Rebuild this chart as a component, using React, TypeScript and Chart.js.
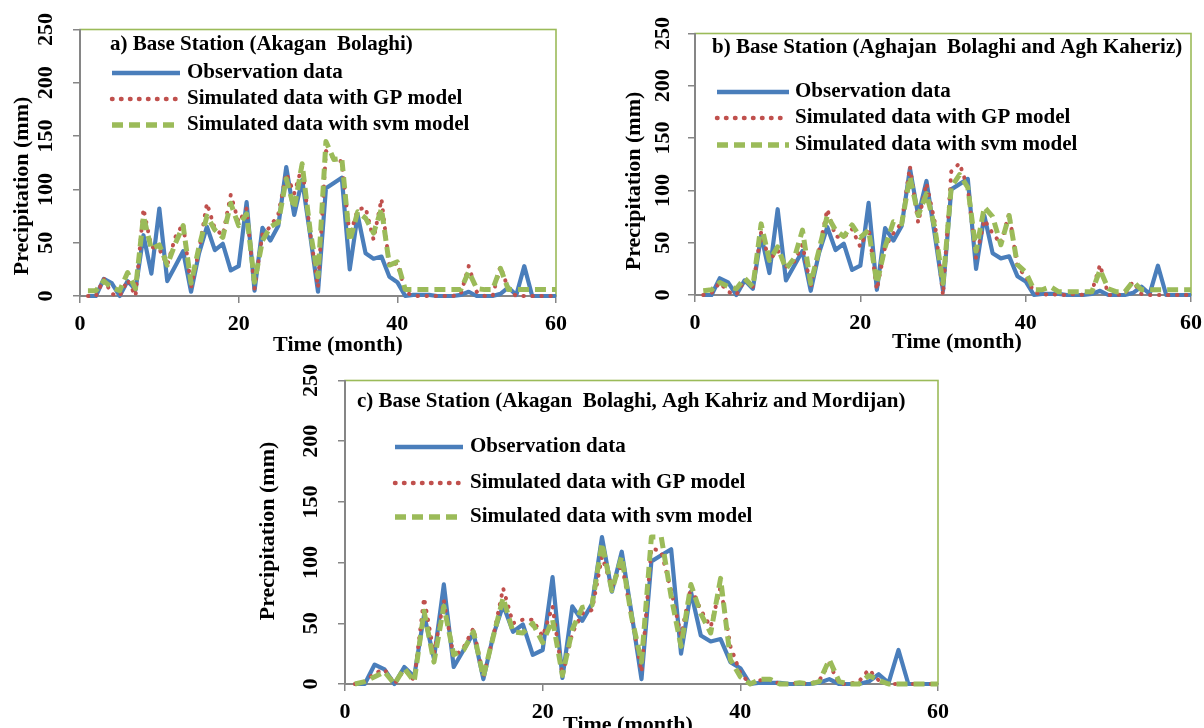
import { useEffect, useRef } from "react";
import { Chart, registerables } from "chart.js";

Chart.register(...registerables);

// ---------- data ----------
const months = [
  1, 2, 3, 4, 5, 6, 7, 8, 9, 10, 11, 12, 13, 14, 15, 16, 17, 18, 19, 20,
  21, 22, 23, 24, 25, 26, 27, 28, 29, 30, 31, 32, 33, 34, 35, 36, 37, 38, 39, 40,
  41, 42, 43, 44, 45, 46, 47, 48, 49, 50, 51, 52, 53, 54, 55, 56, 57, 58, 59, 60,
];
const xTickValues = [0, 20, 40, 60];
const yTickValues = [0, 50, 100, 150, 200, 250];

const seriesLabels = [
  "Observation data",
  "Simulated data with GP model",
  "Simulated data with svm model",
];

const observation = [
  0, 0, 16, 12, 0, 14, 6, 57, 21, 82, 14, 28, 42, 4, 40, 65, 43, 49, 24, 28,
  88, 5, 64, 52, 66, 121, 76, 109, 58, 4, 101, 106, 111, 25, 76, 40, 35, 37, 18, 13,
  0, 1, 1, 1, 0, 0, 0, 1, 4, 0, 0, 0, 2, 8, 1, 28, 0, 0, 0, 0,
];

const gpA = [
  0, 0, 16, 2, 0, 15, 0, 82, 46, 44, 29, 55, 68, 8, 43, 87, 63, 57, 95, 69,
  82, 7, 58, 65, 77, 115, 96, 122, 60, 8, 136, 129, 126, 56, 81, 83, 53, 91, 28, 31,
  4, 0, 0, 0, 0, 0, 0, 2, 28, 4, 0, 0, 28, 6, 0, 0, 0, 0, 0, 0,
];
const svmA = [
  5, 5, 14, 8, 5, 22, 7, 75, 44, 48, 29, 49, 66, 12, 46, 75, 62, 55, 87, 66,
  77, 13, 52, 65, 69, 110, 82, 124, 62, 18, 145, 128, 129, 51, 79, 73, 59, 82, 29, 32,
  6, 6, 6, 6, 6, 6, 6, 6, 23, 7, 6, 6, 26, 6, 6, 6, 6, 6, 6, 6,
];

const gpB = [
  0, 2, 12, 3, 0, 15, 8, 60, 33, 43, 27, 32, 48, 8, 43, 82, 56, 55, 63, 46,
  64, 5, 46, 59, 69, 123, 69, 107, 70, 0, 118, 126, 102, 35, 72, 59, 49, 78, 27, 18,
  3, 0, 1, 0, 0, 1, 0, 3, 29, 0, 0, 1, 13, 1, 0, 0, 0, 0, 0, 0,
];
const svmB = [
  4, 5, 12, 8, 6, 16, 8, 68, 33, 46, 25, 35, 62, 11, 43, 76, 62, 56, 67, 55,
  62, 11, 46, 70, 68, 113, 76, 97, 65, 11, 103, 115, 103, 42, 84, 75, 48, 76, 29, 22,
  5, 5, 8, 3, 3, 3, 3, 3, 24, 6, 3, 3, 13, 5, 5, 5, 5, 5, 5, 5,
];

const gpC = [
  0, 2, 9, 12, 0, 12, 3, 71, 25, 69, 22, 30, 46, 6, 39, 79, 50, 53, 53, 39,
  64, 7, 42, 58, 61, 105, 80, 99, 55, 10, 112, 109, 77, 40, 80, 61, 47, 80, 31, 9,
  0, 3, 4, 0, 0, 1, 0, 3, 17, 0, 0, 2, 12, 3, 0, 0, 0, 0, 0, 0,
];
const svmC = [
  0, 2, 6, 10, 0, 13, 2, 60, 18, 64, 24, 28, 43, 6, 39, 71, 43, 42, 50, 34,
  53, 7, 45, 63, 65, 116, 77, 105, 55, 18, 121, 121, 72, 31, 82, 58, 42, 87, 20, 6,
  0, 4, 4, 0, 0, 1, 0, 2, 20, 2, 0, 0, 7, 3, 0, 0, 0, 0, 0, 0,
];

// ---------- styles / layout ----------
const W = 1204;
const H = 728;
const BLUE = "#4A7EBB";
const RED = "#C0504D";
const GREEN = "#9BBB59";
const AXIS = "#868686";
const FONT_TICK = 'bold 22px "Liberation Serif", "Times New Roman", serif';
const FONT_TEXT = 'bold 21px "Liberation Serif", "Times New Roman", serif';

type Panel = {
  title: string;
  gp: number[];
  svm: number[];
  area: { left: number; right: number; top: number; bottom: number };
  titlePos: [number, number];
  legendLine: [number, number];
  legendTextX: number;
  legendRows: number[];
  yTickX: number;
  xTickY: number;
  yTitle: [number, number];
  xTitle: [number, number];
};

const panels: Panel[] = [
  {
    title: "a) Base Station (Akagan  Bolaghi)",
    gp: gpA,
    svm: svmA,
    area: { left: 80, right: 556, top: 29.5, bottom: 296 },
    titlePos: [110, 45],
    legendLine: [112, 180],
    legendTextX: 187,
    legendRows: [73, 99, 125],
    yTickX: 46,
    xTickY: 324,
    yTitle: [22, 186],
    xTitle: [338, 345],
  },
  {
    title: "b) Base Station (Aghajan  Bolaghi and Agh Kaheriz)",
    gp: gpB,
    svm: svmB,
    area: { left: 695, right: 1191, top: 33.5, bottom: 295 },
    titlePos: [712, 48],
    legendLine: [717, 789],
    legendTextX: 795,
    legendRows: [92, 118, 145],
    yTickX: 663,
    xTickY: 323,
    yTitle: [634, 181],
    xTitle: [957, 342],
  },
  {
    title: "c) Base Station (Akagan  Bolaghi, Agh Kahriz and Mordijan)",
    gp: gpC,
    svm: svmC,
    area: { left: 345, right: 938, top: 380.5, bottom: 684 },
    titlePos: [357, 402],
    legendLine: [395, 463],
    legendTextX: 470,
    legendRows: [447, 483, 517],
    yTickX: 311,
    xTickY: 712,
    yTitle: [268, 531],
    xTitle: [628, 725],
  },
];

const lineStyles = [
  { color: BLUE, width: 4.2, dash: [] as number[], cap: "butt" as CanvasLineCap, order: 3 },
  { color: RED, width: 4, dash: [0.5, 8.5], cap: "round" as CanvasLineCap, order: 2 },
  { color: GREEN, width: 5, dash: [11, 6], cap: "butt" as CanvasLineCap, order: 1 },
];

function makeDecor(p: Panel) {
  return {
    id: "decor",
    beforeDraw(chart: any) {
      const { ctx, chartArea: a } = chart;
      ctx.save();
      ctx.strokeStyle = GREEN;
      ctx.lineWidth = 1.6;
      ctx.strokeRect(a.left, a.top, a.right - a.left, a.bottom - a.top);
      ctx.restore();
    },
    afterDraw(chart: any) {
      const { ctx } = chart;
      const ys = chart.scales.y;
      const xs = chart.scales.x;
      ctx.save();
      ctx.fillStyle = "#000";
      ctx.font = FONT_TICK;
      ctx.textAlign = "center";
      ctx.textBaseline = "middle";
      // y tick labels (rotated)
      ys.ticks.forEach((t: any) => {
        const py = ys.getPixelForValue(t.value);
        ctx.save();
        ctx.translate(p.yTickX, py);
        ctx.rotate(-Math.PI / 2);
        ctx.fillText(String(t.value), 0, 0);
        ctx.restore();
      });
      // x tick labels
      xs.ticks.forEach((t: any) => {
        const px = xs.getPixelForValue(t.value);
        ctx.fillText(String(t.value), px, p.xTickY);
      });
      // axis titles
      ctx.save();
      ctx.translate(p.yTitle[0], p.yTitle[1]);
      ctx.rotate(-Math.PI / 2);
      ctx.fillText(ys.options.title.text, 0, 0);
      ctx.restore();
      ctx.fillText(xs.options.title.text, p.xTitle[0], p.xTitle[1]);
      // panel title
      ctx.font = FONT_TEXT;
      ctx.textAlign = "left";
      ctx.fillText(p.title, p.titlePos[0], p.titlePos[1]);
      // legend
      chart.data.datasets.forEach((ds: any, i: number) => {
        const y = p.legendRows[i];
        const st = lineStyles[i];
        ctx.save();
        ctx.strokeStyle = ds.borderColor;
        ctx.lineWidth = st.width + 0.5;
        ctx.setLineDash(st.dash);
        ctx.lineCap = st.cap;
        ctx.beginPath();
        ctx.moveTo(p.legendLine[0], y);
        ctx.lineTo(p.legendLine[1], y);
        ctx.stroke();
        ctx.restore();
        ctx.fillText(ds.label, p.legendTextX, y);
      });
      ctx.restore();
    },
  };
}

function PanelChart({ p }: { p: Panel }) {
  const ref = useRef<HTMLCanvasElement | null>(null);
  useEffect(() => {
    if (!ref.current) return;
    const seriesData = [observation, p.gp, p.svm];
    const chart = new Chart(ref.current, {
      type: "line",
      data: {
        datasets: seriesData.map((vals, i) => ({
          label: seriesLabels[i],
          data: months.map((m, k) => ({ x: m, y: vals[k] })),
          borderColor: lineStyles[i].color,
          borderWidth: lineStyles[i].width,
          borderDash: lineStyles[i].dash,
          borderCapStyle: lineStyles[i].cap,
          borderJoinStyle: "round",
          order: lineStyles[i].order,
          pointRadius: 0,
          tension: 0,
          fill: false,
          clip: false as any,
        })),
      },
      options: {
        responsive: false,
        animation: false,
        devicePixelRatio: 1,
        layout: {
          padding: {
            left: p.area.left,
            right: W - p.area.right,
            top: p.area.top,
            bottom: H - p.area.bottom,
          },
        },
        plugins: {
          legend: { display: false },
          tooltip: { enabled: false },
          title: { display: false },
        },
        scales: {
          x: {
            type: "linear",
            min: xTickValues[0],
            max: xTickValues[xTickValues.length - 1],
            afterBuildTicks: (s: any) => {
              s.ticks = xTickValues.map((v) => ({ value: v }));
            },
            afterFit: (s: any) => {
              s.height = 0;
            },
            ticks: { display: false },
            title: { display: false, text: "Time (month)" },
            grid: {
              drawOnChartArea: false,
              drawTicks: true,
              tickLength: 7,
              color: AXIS,
              lineWidth: 1.5,
            },
            border: { display: true, color: AXIS, width: 2 },
          },
          y: {
            type: "linear",
            min: yTickValues[0],
            max: yTickValues[yTickValues.length - 1],
            afterBuildTicks: (s: any) => {
              s.ticks = yTickValues.map((v) => ({ value: v }));
            },
            afterFit: (s: any) => {
              s.width = 0;
            },
            ticks: { display: false },
            title: { display: false, text: "Precipitation (mm)" },
            grid: {
              drawOnChartArea: false,
              drawTicks: true,
              tickLength: 7,
              color: AXIS,
              lineWidth: 1.5,
            },
            border: { display: true, color: AXIS, width: 2 },
          },
        },
      },
      plugins: [makeDecor(p)],
    } as any);
    return () => chart.destroy();
  }, [p]);
  return (
    <canvas
      ref={ref}
      width={W}
      height={H}
      style={{ position: "absolute", left: 0, top: 0, width: W, height: H }}
    />
  );
}

export default function App() {
  return (
    <div
      style={{
        position: "absolute",
        left: 0,
        top: 0,
        width: W,
        height: H,
        background: "#fff",
        overflow: "hidden",
      }}
    >
      {panels.map((p, i) => (
        <PanelChart key={i} p={p} />
      ))}
    </div>
  );
}
